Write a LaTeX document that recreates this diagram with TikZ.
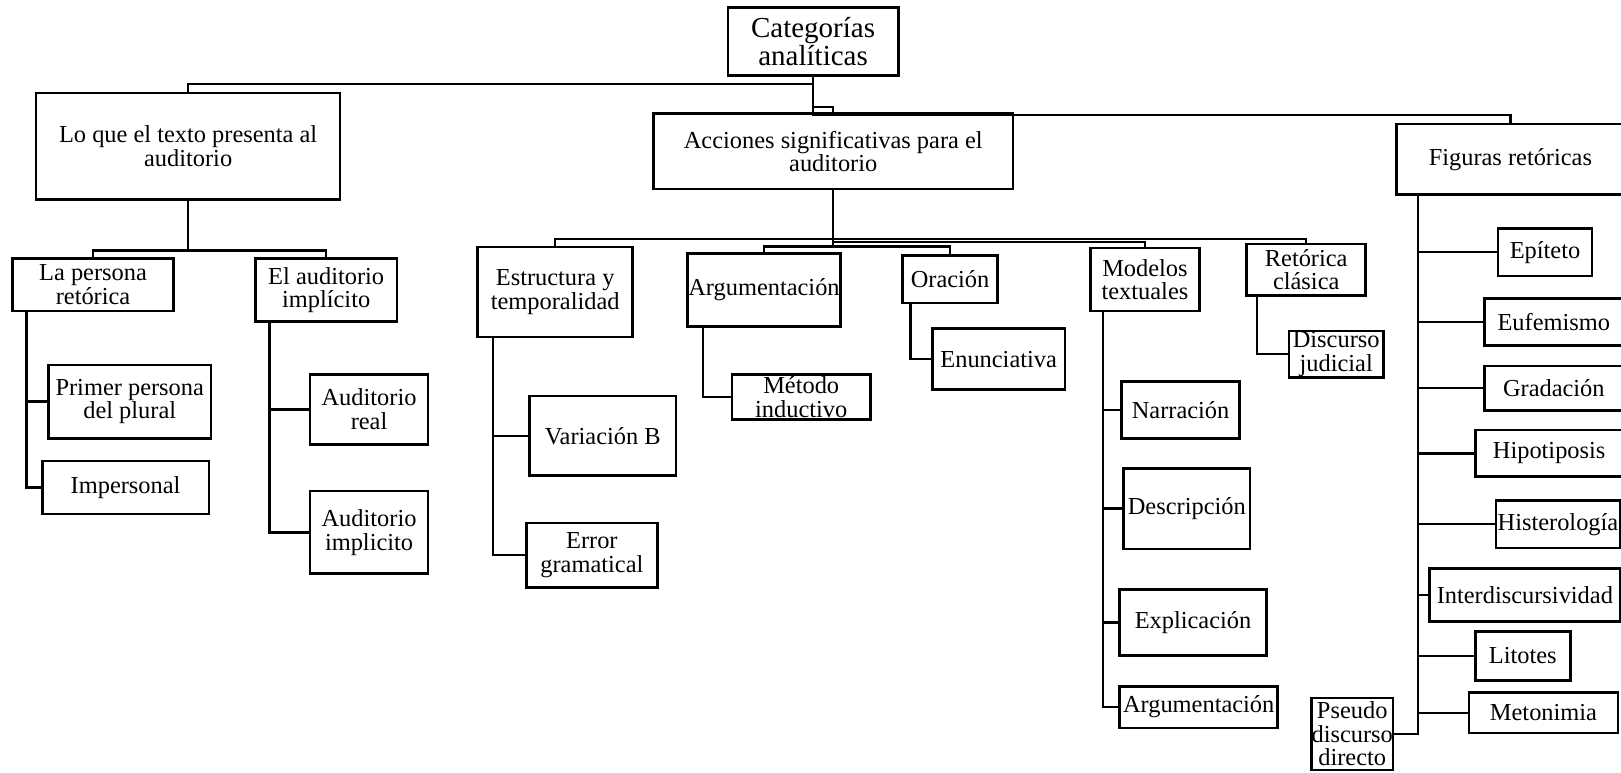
\documentclass[tikz,border=0pt]{standalone}
\usepackage{fontspec}
\setmainfont{Liberation Serif}
\def\px{0.5169pt}
\tikzset{
  caja/.style 2 args={draw, line width=1.3pt, align=center, inner sep=0pt,
    minimum width=#1*\px, minimum height=#2*\px,
    font=\fontsize{12.2}{11.8}\selectfont},
  rama/.style={line width=1.2pt},
}
\begin{document}
\begin{tikzpicture}[x=\px, y=-\px]
\useasboundingbox (0,0) rectangle (1568,747);

% nivel superior
\node (cat) at (786.5,40) [caja={165}{66}, font=\fontsize{14.5}{14.2}\selectfont] {Categorías\\analíticas};
\node (lq) at (182,141.5) [caja={294}{103}] {Lo que el texto presenta al\\auditorio};
\node (acc) at (806,146.5) [caja={348}{73}] {Acciones significativas para el\\auditorio};
\node (fig) at (1461,154) [caja={220}{68}] {Figuras retóricas};

\draw[rama] (cat.south) -- ++(0,7) -| (lq.north);
\draw[rama] (cat.south) -- ++(0,29) -| (acc.north);
\draw[rama] (cat.south) -- ++(0,37) -| (fig.north);

% lo que el texto presenta
\node (lp) at (90,275.5) [caja={156}{51}] {La persona\\retórica};
\node (ea) at (315.5,280.5) [caja={137}{61}] {El auditorio\\implícito};
\node (pp) at (125.5,388.5) [caja={157}{71}] {Primer persona\\del plural};
\node (imp) at (121.5,471.5) [caja={161}{51}] {Impersonal};
\node (ar) at (357,396) [caja={114}{68}] {Auditorio\\real};
\node (ai) at (357,515) [caja={114}{80}] {Auditorio\\implicito};

\draw[rama] (lq.south) -- ++(0,48) -| (lp.north);
\draw[rama] (lq.south) -- ++(0,48) -| (ea.north);
\draw[rama] (lp.south west) ++(15,0) |- (pp.west);
\draw[rama] (lp.south west) ++(15,0) |- (imp.west);
\draw[rama] (ea.south west) ++(15,0) |- (ar.west);
\draw[rama] (ea.south west) ++(15,0) |- (ai.west);

% acciones significativas
\node (est) at (537,282.5) [caja={150}{87}] {Estructura y\\temporalidad};
\node (vb) at (583,421.5) [caja={142}{77}] {Variación B};
\node (eg) at (572.5,537) [caja={127}{62}] {Error\\gramatical};
\node (arg) at (739,280.5) [caja={148}{71}] {Argumentación};
\node (mi) at (775,384) [caja={134}{44}] {Método\\inductivo};
\node (ora) at (919,270) [caja={92}{46}] {Oración};
\node (enu) at (966,347.5) [caja={128}{59}] {Enunciativa};
\node (mt) at (1107.5,270.5) [caja={105}{61}] {Modelos\\textuales};
\node (nar) at (1142,396.5) [caja={114}{55}] {Narración};
\node (des) at (1148,492) [caja={122}{78}] {Descripción};
\node (expl) at (1154,602) [caja={142}{64}] {Explicación};
\node (argm) at (1159.5,684) [caja={153}{40}] {Argumentación};
\node (rc) at (1263.5,261) [caja={115}{50}] {Retórica\\clásica};
\node (dj) at (1292.5,342.5) [caja={91}{45}] {Discurso\\judicial};

\draw[rama] (acc.south) -- ++(0,47) -| (est.north);
\draw[rama] (acc.south) -- ++(0,47) -| (rc.north);
\draw[rama] (acc.south) -- ++(0,50) -| (mt.north);
\draw[rama] (acc.south) -- ++(0,54) -| (arg.north);
\draw[rama] (acc.south) -- ++(0,54) -| (ora.north);
\draw[rama] (est.south west) ++(16,0) |- (vb.west);
\draw[rama] (est.south west) ++(16,0) |- (eg.west);
\draw[rama] (arg.south west) ++(16,0) |- (mi.west);
\draw[rama] (ora.south west) ++(9,0) |- (enu.west);
\draw[rama] (mt.south west) ++(13,0) |- (nar.west);
\draw[rama] (mt.south west) ++(13,0) |- (des.west);
\draw[rama] (mt.south west) ++(13,0) |- (expl.west);
\draw[rama] (mt.south west) ++(13,0) |- (argm.west);
\draw[rama] (rc.south west) ++(11,0) |- (dj.west);

% figuras retoricas
\node (epi) at (1494.5,244) [caja={91}{46}] {Epíteto};
\node (euf) at (1503,311.5) [caja={134}{45}] {Eufemismo};
\node (gra) at (1503,375.5) [caja={134}{43}] {Gradación};
\node (hip) at (1498.5,438.5) [caja={143}{45}] {Hipotiposis};
\node (his) at (1507,507) [caja={120}{46}] {Histerología};
\node (int) at (1475,575.5) [caja={184}{51}] {Interdiscursividad};
\node (lit) at (1473,634.5) [caja={92}{47}] {Litotes};
\node (met) at (1493,689.5) [caja={144}{39}] {Metonimia};
\node (pse) at (1308,710) [caja={74}{70}] {Pseudo\\discurso\\directo};

\draw[rama] (fig.south west) ++(22,0) |- (epi.west);
\draw[rama] (fig.south west) ++(22,0) |- (euf.west);
\draw[rama] (fig.south west) ++(22,0) |- (gra.west);
\draw[rama] (fig.south west) ++(22,0) |- (hip.west);
\draw[rama] (fig.south west) ++(22,0) |- (his.west);
\draw[rama] (fig.south west) ++(22,0) |- (int.west);
\draw[rama] (fig.south west) ++(22,0) |- (lit.west);
\draw[rama] (fig.south west) ++(22,0) |- (met.west);
\draw[rama] (fig.south west) ++(22,0) |- (pse.east);
\end{tikzpicture}
\end{document}
